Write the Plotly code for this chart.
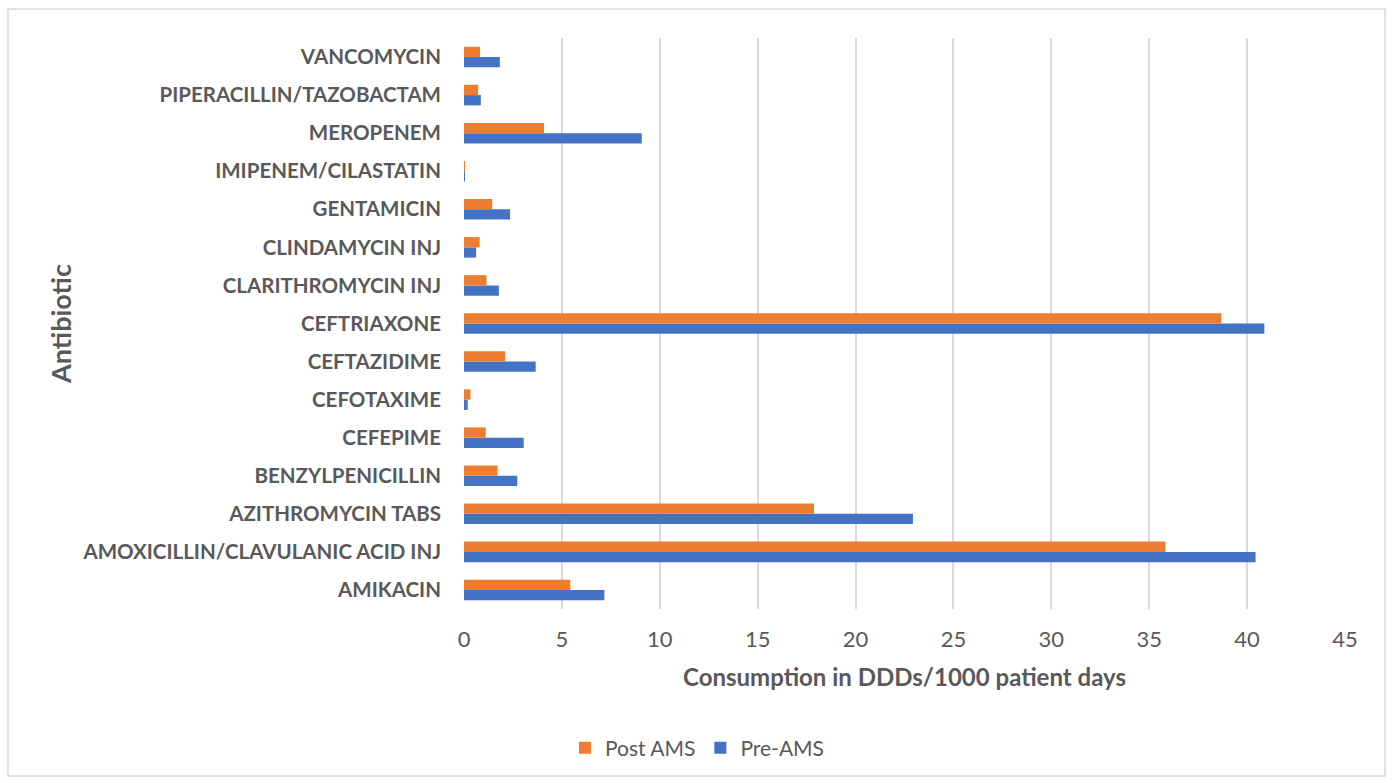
import plotly.graph_objects as go

antibiotics = [
    "AMIKACIN",
    "AMOXICILLIN/CLAVULANIC ACID INJ",
    "AZITHROMYCIN TABS",
    "BENZYLPENICILLIN",
    "CEFEPIME",
    "CEFOTAXIME",
    "CEFTAZIDIME",
    "CEFTRIAXONE",
    "CLARITHROMYCIN INJ",
    "CLINDAMYCIN INJ",
    "GENTAMICIN",
    "IMIPENEM/CILASTATIN",
    "MEROPENEM",
    "PIPERACILLIN/TAZOBACTAM",
    "VANCOMYCIN",
]
pre_ams = [7.17, 40.43, 22.93, 2.72, 3.05, 0.19, 3.66, 40.88, 1.78, 0.62, 2.35, 0.02, 9.08, 0.86, 1.83]
post_ams = [5.43, 35.83, 17.88, 1.71, 1.11, 0.33, 2.10, 38.68, 1.15, 0.80, 1.44, 0.03, 4.09, 0.72, 0.82]
x_ticks = [0, 5, 10, 15, 20, 25, 30, 35, 40, 45]

ORANGE = "#ED7D31"
BLUE = "#4472C4"
TEXT = "#595959"
FONT = "Lato"

fig = go.Figure()
fig.add_trace(go.Bar(
    y=antibiotics, x=pre_ams, name="Pre-AMS", orientation="h",
    marker=dict(color=BLUE, line=dict(width=0)),
))
fig.add_trace(go.Bar(
    y=antibiotics, x=post_ams, name="Post AMS", orientation="h",
    marker=dict(color=ORANGE, line=dict(width=0)),
))

W, H = 1393, 783
L, R, T, B = 464, 48, 38, 174
pw = W - L - R
ph = H - T - B

def px_x(x):
    return (x - L) / pw

def px_y(y):
    return (H - B - y) / ph

fig.update_layout(
    width=W, height=H,
    margin=dict(l=L, r=R, t=T, b=B, autoexpand=False),
    paper_bgcolor="white", plot_bgcolor="white",
    barmode="group", bargap=0.46, bargroupgap=0.0,
    font=dict(family=FONT, color=TEXT),
    showlegend=True,
    legend=dict(
        orientation="h", traceorder="reversed",
        x=px_x(565), xanchor="left", y=px_y(748), yanchor="middle",
        font=dict(family=FONT, size=21, color=TEXT),
        itemwidth=30,
    ),
    xaxis=dict(
        range=[0, 45], tickvals=x_ticks, showgrid=True,
        gridcolor="#D9D9D9", gridwidth=1.5, zeroline=False,
        showline=False, ticks="", ticklabelstandoff=15,
        tickfont=dict(family=FONT, size=22, color=TEXT),
        title=dict(text="<b>Consumption in DDDs/1000 patient days</b>",
                   font=dict(family=FONT, size=24, color=TEXT), standoff=18),
    ),
    yaxis=dict(
        type="category", categoryorder="array", categoryarray=antibiotics,
        showgrid=False, zeroline=False, showline=False, ticks="",
        ticklabelstandoff=22,
        tickfont=dict(family=FONT, size=20.5, color=TEXT, weight="bold"),
        title=dict(text="<b>Antibiotic</b>",
                   font=dict(family=FONT, size=27, color=TEXT), standoff=2),
    ),
    shapes=[dict(
        type="rect", xref="paper", yref="paper",
        x0=px_x(8), x1=px_x(1385), y0=px_y(776), y1=px_y(9),
        line=dict(color="#D9D9D9", width=1.5), fillcolor="rgba(0,0,0,0)",
        layer="below",
    )],
)

fig.write_html("out.html", config={"displayModeBar": False},
               post_script="document.body.style.margin='0';")
